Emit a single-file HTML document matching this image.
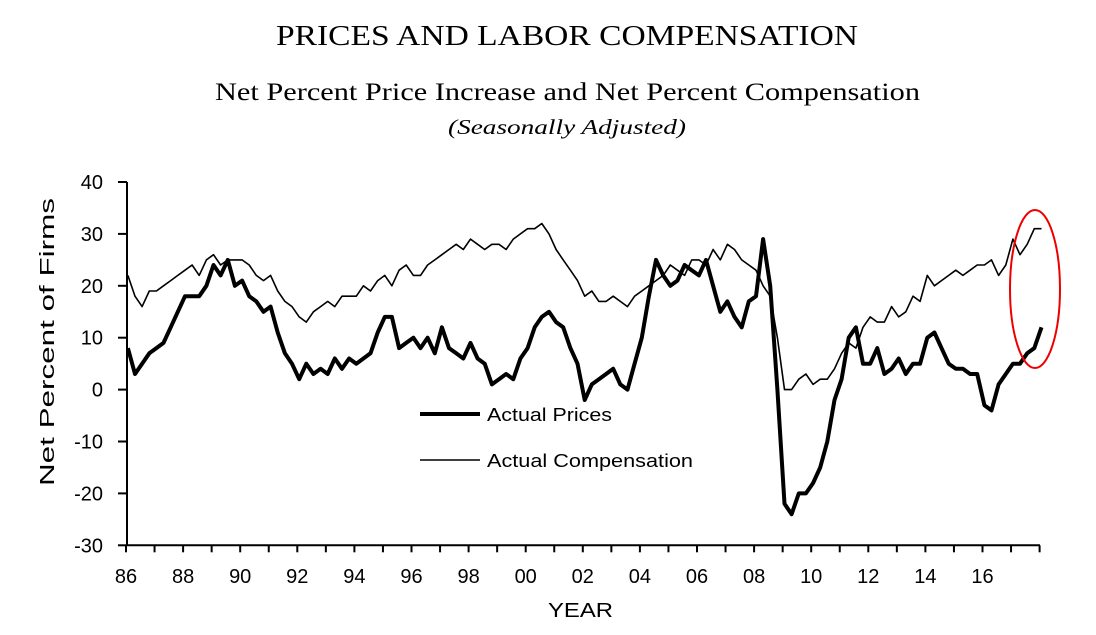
<!DOCTYPE html>
<html><head><meta charset="utf-8"><style>
body{margin:0;background:#fff;width:1096px;height:630px;overflow:hidden}
svg text{fill:#000}
</style></head><body>
<svg id="chart" width="1096" height="630" xmlns="http://www.w3.org/2000/svg">
<text x="276" y="45" textLength="582" lengthAdjust="spacingAndGlyphs" font-family="Liberation Serif, serif" font-size="29">PRICES AND LABOR COMPENSATION</text>
<text x="215" y="100" textLength="705" lengthAdjust="spacingAndGlyphs" font-family="Liberation Serif, serif" font-size="25">Net Percent Price Increase and Net Percent Compensation</text>
<text x="448" y="134" textLength="238" lengthAdjust="spacingAndGlyphs" font-family="Liberation Serif, serif" font-size="21" font-style="italic">(Seasonally Adjusted)</text>
<text transform="translate(54,486) rotate(-90)" textLength="288" lengthAdjust="spacingAndGlyphs" font-family="Liberation Sans, sans-serif" font-size="20">Net Percent of Firms</text>
<text x="548" y="617" textLength="65" lengthAdjust="spacingAndGlyphs" font-family="Liberation Sans, sans-serif" font-size="20">YEAR</text>
<g id="axes"></g>
<g id="series"></g>
<g>
<line x1="420" y1="414" x2="480" y2="414" stroke="#000" stroke-width="4"/>
<text x="487" y="421" textLength="125" lengthAdjust="spacingAndGlyphs" font-family="Liberation Sans, sans-serif" font-size="18">Actual Prices</text>
<line x1="420" y1="460" x2="480" y2="460" stroke="#000" stroke-width="1.6"/>
<text x="487" y="467" textLength="206" lengthAdjust="spacingAndGlyphs" font-family="Liberation Sans, sans-serif" font-size="18">Actual Compensation</text>
</g>
<ellipse cx="1035" cy="289" rx="25" ry="79" fill="none" stroke="#e00" stroke-width="2"/>
</svg>
<script>
const startYear = 1986;
const yTicks = [40,30,20,10,0,-10,-20,-30];
const xTickLabels = ["86","88","90","92","94","96","98","00","02","04","06","08","10","12","14","16"];
const prices = [8,3,5,7, 8,9,12,15, 18,18,18,20, 24,22,25,20, 21,18,17,15, 16,11,7,5, 2,5,3,4, 3,6,4,6, 5,6,7,11, 14,14,8,9, 10,8,10,7, 12,8,7,6, 9,6,5,1, 2,3,2,6, 8,12,14,15, 13,12,8,5, -2,1,2,3, 4,1,0,5, 10,18,25,22, 20,21,24,23, 22,25,20,15, 17,14,12,17, 18,29,20,0, -22,-24,-20,-20, -18,-15,-10,-2, 2,10,12,5, 5,8,3,4, 6,3,5,5, 10,11,8,5, 4,4,3,3, -3,-4,1,3, 5,5,7,8, 12];
const compensation = [22,18,16,19, 19,20,21,22, 23,24,22,25, 26,24,25,25, 25,24,22,21, 22,19,17,16, 14,13,15,16, 17,16,18,18, 18,20,19,21, 22,20,23,24, 22,22,24,25, 26,27,28,27, 29,28,27,28, 28,27,29,30, 31,31,32,30, 27,25,23,21, 18,19,17,17, 18,17,16,18, 19,20,21,22, 24,23,22,25, 25,24,27,25, 28,27,25,24, 23,20,18,10, 0,0,2,3, 1,2,2,4, 7,9,8,12, 14,13,13,16, 14,15,18,17, 22,20,21,22, 23,22,23,24, 24,25,22,24, 29,26,28,31, 31];
const NS="http://www.w3.org/2000/svg";
const xs = yr => 125 + (yr - 1986) * 28.55;
const ys = v => 389.6 - v * 5.19;
const axes=document.getElementById('axes');
function mk(tag,attrs,parent){const e=document.createElementNS(NS,tag);for(const k in attrs)e.setAttribute(k,attrs[k]);parent.appendChild(e);return e;}
const yAxis=mk('line',{x1:127,y1:ys(40),x2:127,y2:ys(-30),stroke:'#000','stroke-width':2},axes);


const xAxis=mk('line',{x1:127,y1:ys(-30),x2:1040,y2:ys(-30),stroke:'#000','stroke-width':2},axes);


yTicks.forEach(v=>{
  const t=mk('line',{x1:118,y1:ys(v),x2:127,y2:ys(v),stroke:'#000','stroke-width':2},axes);
  
  
  const l=mk('text',{x:103,y:ys(v)+7,'text-anchor':'end','font-family':'Liberation Sans, sans-serif','font-size':20},axes);
  l.textContent=v;
  
  
});
for(let yr=1986;yr<=2018;yr++){
  const t=mk('line',{x1:xs(yr)+1,y1:ys(-30),x2:xs(yr)+1,y2:ys(-30)+7,stroke:'#000','stroke-width':2},axes);
  
  
}
xTickLabels.forEach((s,i)=>{
  const l=mk('text',{x:xs(1986+2*i)+1,y:583,'text-anchor':'middle','font-family':'Liberation Sans, sans-serif','font-size':20},axes);
  l.textContent=s;
  
  
});
const series=document.getElementById('series');
function path(arr){return arr.map((v,i)=>(i?'L':'M')+xs(startYear+i*0.25+0.1).toFixed(1)+','+ys(v).toFixed(1)).join(' ');}
const pc=mk('path',{d:path(compensation),fill:'none',stroke:'#000','stroke-width':1.6,'stroke-linejoin':'round'},series);


const pp=mk('path',{d:path(prices),fill:'none',stroke:'#000','stroke-width':4,'stroke-linejoin':'round'},series);


</script>
</body></html>
